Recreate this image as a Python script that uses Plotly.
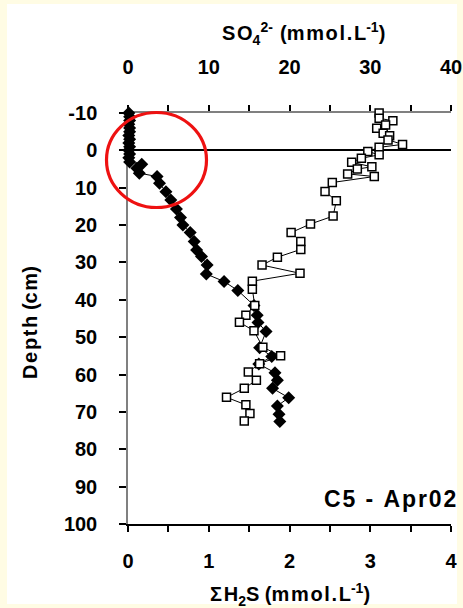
import plotly.graph_objects as go

# ---- data ----
so4_depth = [-10.0, -8.6, -7.9, -6.8, -5.9, -4.6, -3.9, -2.8, -1.6, -0.8, 0.3, 1.2, 2.1, 3.2, 4.4,
             5.0, 6.3, 7.0, 8.6, 11.0, 13.5, 17.6, 19.7, 22.0, 24.4, 26.5, 28.6, 30.7, 32.9, 35.0,
             37.2, 41.5, 44.1, 46.0, 48.3, 52.7, 55.0, 57.1, 59.3, 61.5, 63.7, 66.1, 68.1, 70.4, 72.4]
so4 = [31.1, 31.1, 32.8, 31.9, 30.8, 31.6, 32.4, 32.2, 34.0, 31.1, 29.7, 31.1, 28.9, 27.7, 30.2,
       28.4, 27.2, 30.5, 25.3, 24.4, 25.8, 25.4, 22.6, 20.2, 21.4, 21.4, 18.5, 16.6, 21.3, 15.4,
       15.4, 15.7, 14.6, 13.8, 15.6, 16.7, 18.9, 16.3, 14.9, 15.9, 14.4, 12.2, 14.6, 15.1, 14.4]

h2s_depth = [-10, -9, -8, -7, -6, -5, -4, -3, -2, -1, 0, 1, 2, 3.1,
             3.7, 4.8, 6.1, 7.0, 8.8, 11.1, 13.3, 15.7, 18.0, 20.0, 22.0, 24.4, 26.7, 28.4,
             30.7, 33.1, 35.1, 37.5, 41.5, 44.1, 46.1, 48.5, 52.8, 55.2, 57.2, 59.5, 61.5,
             63.7, 66.2, 68.4, 70.6, 72.6]
h2s = [0.01, 0.02, 0.02, 0.01, 0.02, 0.02, 0.01, 0.02, 0.01, 0.02, 0.01, 0.02, 0.01, 0.02,
       0.17, 0.11, 0.14, 0.36, 0.39, 0.47, 0.53, 0.60, 0.65, 0.68, 0.77, 0.82, 0.85, 0.91,
       0.98, 0.97, 1.19, 1.36, 1.56, 1.60, 1.61, 1.71, 1.63, 1.78, 1.62, 1.82, 1.85,
       1.79, 1.99, 1.85, 1.87, 1.88]

h2s_ticks = [0, 1, 2, 3, 4]
so4_ticks = [0, 10, 20, 30, 40]
depth_ticks = [-10, 0, 10, 20, 30, 40, 50, 60, 70, 80, 90, 100]

FONT = "Liberation Sans, Arial, sans-serif"
HS = "\u200a"  # hair space for letter spacing


def spaced(s):
    return HS.join(list(s))


W, H = 463, 608
L, R, T, B = 128, 12, 113, 84
pw, ph = W - L - R, H - T - B


def px_x(p):
    return (p - L) / pw


def px_y(p):
    return (H - B - p) / ph


fig = go.Figure()

fig.add_trace(go.Scatter(
    x=so4, y=so4_depth, xaxis="x2", yaxis="y", mode="lines+markers",
    line=dict(color="black", width=1),
    marker=dict(symbol="square", size=8, color="white", line=dict(color="black", width=1.5)),
    cliponaxis=False, showlegend=False, name="SO4"))

fig.add_trace(go.Scatter(
    x=h2s, y=h2s_depth, xaxis="x", yaxis="y", mode="lines+markers",
    line=dict(color="black", width=1),
    marker=dict(symbol="diamond", size=10, color="black", line=dict(color="black", width=0)),
    cliponaxis=False, showlegend=False, name="H2S"))

tickfont = dict(family=FONT, size=20, color="black", weight="bold")

fig.update_layout(
    template="none",
    width=W, height=H,
    margin=dict(l=L, r=R, t=T, b=B, pad=0, autoexpand=False),
    paper_bgcolor="#FFFCE4", plot_bgcolor="white",
    showlegend=False,
    xaxis=dict(range=[0, 4], tickvals=h2s_ticks, ticktext=[str(v) for v in h2s_ticks],
               automargin=False,
               ticks="outside", ticklen=6, tickcolor="black", tickwidth=1.5,
               minor=dict(dtick=0.5, ticks="outside", ticklen=6, tickcolor="black", tickwidth=1.5,
                          showgrid=False),
               showline=True, linecolor="black", linewidth=1.5, showgrid=False, zeroline=False,
               tickfont=tickfont, ticklabelstandoff=12),
    xaxis2=dict(range=[0, 40], tickvals=so4_ticks, ticktext=[str(v) for v in so4_ticks],
                overlaying="x", side="top", anchor="y", automargin=False, layer="below traces",
                ticks="outside", ticklen=6, tickcolor="black", tickwidth=1.5,
                minor=dict(dtick=5, ticks="outside", ticklen=6, tickcolor="black", tickwidth=1.5,
                           showgrid=False),
                showline=True, linecolor="#808080", linewidth=1.5, showgrid=False, zeroline=False,
                tickfont=tickfont, ticklabelstandoff=23),
    yaxis=dict(range=[100, -10], tickvals=depth_ticks, ticktext=[str(v) for v in depth_ticks],
               automargin=False, layer="below traces",
               ticks="outside", ticklen=7, tickcolor="black", tickwidth=1.5,
               showline=True, linecolor="#808080", linewidth=1.5, showgrid=False,
               zeroline=True, zerolinecolor="black", zerolinewidth=1.5,
               tickfont=tickfont, ticklabelstandoff=18),
)

# white inner panel inside the pale yellow frame
fig.add_shape(type="rect", xref="paper", yref="paper", layer="below",
              x0=px_x(7), x1=px_x(457), y0=px_y(604), y1=px_y(4),
              fillcolor="white", line=dict(width=0))

# red highlight circle
fig.add_shape(type="circle", xref="paper", yref="paper", layer="above",
              x0=px_x(106.5), x1=px_x(206.5), y0=px_y(207.5), y1=px_y(112.5),
              line=dict(color="#EE1111", width=3.2))

title_font = dict(family=FONT, size=20, color="black", weight="bold")

fig.add_annotation(
    text=spaced("SO") + "<sub>4</sub><sup>2-</sup>" + HS + " (" + spaced("mmol.L") + "<sup>-1</sup>)",
    xref="paper", yref="paper", x=px_x(303), y=px_y(33), xanchor="center", yanchor="middle",
    showarrow=False, font=title_font)

fig.add_annotation(
    text=spaced("ΣH") + "<sub>2</sub>S (" + spaced("mmol.L") + "<sup>-1</sup>)",
    xref="paper", yref="paper", x=px_x(290), y=px_y(594), xanchor="center", yanchor="middle",
    showarrow=False, font=title_font)

fig.add_annotation(
    text=spaced("Depth") + " (" + spaced("cm") + ")",
    xref="paper", yref="paper", x=px_x(30), y=px_y(323), xanchor="center", yanchor="middle",
    textangle=-90, showarrow=False, font=title_font)

fig.add_annotation(
    text=spaced("C5 - Apr02"),
    xref="paper", yref="paper", x=px_x(458), y=px_y(499), xanchor="right", yanchor="middle",
    showarrow=False, font=dict(family=FONT, size=23, color="black", weight="bold"))

fig.write_html("out.html")
